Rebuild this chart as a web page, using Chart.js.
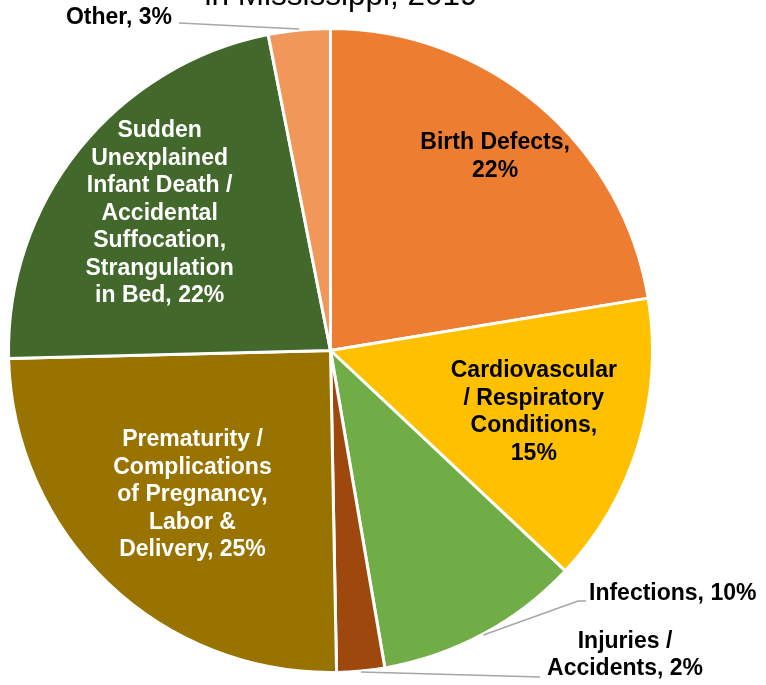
<!DOCTYPE html>
<html>
<head>
<meta charset="utf-8">
<script src="https://cdn.jsdelivr.net/npm/chart.js@4.4.1/dist/chart.umd.min.js"></script>
<style>
  html, body { margin: 0; padding: 0; background: #fff; }
  #wrap { width: 766px; height: 685px; }
</style>
</head>
<body>
<div id="wrap"><canvas id="infantDeathChart"></canvas></div>
<script>
// data (percent of infant deaths)
const causes = [
    'Birth Defects',
    'Cardiovascular / Respiratory Conditions',
    'Infections',
    'Injuries / Accidents',
    'Prematurity / Complications of Pregnancy, Labor & Delivery',
    'Sudden Unexplained Infant Death / Accidental Suffocation, Strangulation in Bed',
    'Other'
];
const shares = [22.4, 14.6, 10.3, 2.4, 24.9, 22.3, 3.1];
const sliceColors = ['#ED7D31', '#FFC000', '#70AD47', '#9E480E', '#997300', '#43682B', '#F1975A'];

// how each label is written and placed
const labelLines = [
    ['Birth Defects,', '{p}'],
    ['Cardiovascular', '/ Respiratory', 'Conditions,', '{p}'],
    ['Infections, {p}'],
    ['Injuries /', 'Accidents, {p}'],
    ['Prematurity /', 'Complications', 'of Pregnancy,', 'Labor &', 'Delivery, {p}'],
    ['Sudden', 'Unexplained', 'Infant Death /', 'Accidental', 'Suffocation,', 'Strangulation', 'in Bed, {p}'],
    ['Other, {p}']
];
const labelStyle = [
    { inside: 0.79, color: '#000' },
    { inside: 0.66, color: '#000' },
    { x: 589, y: 594, align: 'left', elbow: [578, 601], end: [586, 601], color: '#000' },
    { x: 625, y: 655, align: 'center', elbow: [540, 677], end: [540, 677], color: '#000' },
    { inside: 0.62, color: '#fff' },
    { inside: 0.68, color: '#fff' },
    { x: 172, y: 18, align: 'right', elbow: [179, 23], end: [179, 23], color: '#000' }
];

const titlePlugin = {
    id: 'cutTitle',
    afterDraw(chart) {
        const ctx = chart.ctx;
        ctx.save();
        ctx.fillStyle = '#000';
        ctx.font = '31.5px "Liberation Sans", Arial, sans-serif';
        ctx.textAlign = 'center';
        ctx.textBaseline = 'alphabetic';
        ctx.fillText('in Mississippi, 2019', 341, 5);
        ctx.restore();
    }
};

const sliceLabels = {
    id: 'sliceLabels',
    afterDatasetsDraw(chart) {
        const ctx = chart.ctx;
        const meta = chart.getDatasetMeta(0);
        const lh = 27.5;
        ctx.save();
        ctx.font = 'bold 23px "Liberation Sans", Arial, sans-serif';
        ctx.textBaseline = 'middle';
        meta.data.forEach((arc, i) => {
            const st = labelStyle[i];
            const p = Math.round(shares[i]) + '%';
            const lines = labelLines[i].map(l => l.replace('{p}', p));
            const mid = (arc.startAngle + arc.endAngle) / 2;
            ctx.fillStyle = st.color;
            let cx, cy;
            if (st.inside) {
                cx = arc.x + Math.cos(mid) * arc.outerRadius * st.inside;
                cy = arc.y + Math.sin(mid) * arc.outerRadius * st.inside;
                ctx.textAlign = 'center';
            } else {
                // leader line from the slice edge
                const ex = arc.x + Math.cos(mid) * (arc.outerRadius + 1);
                const ey = arc.y + Math.sin(mid) * (arc.outerRadius + 1);
                ctx.strokeStyle = '#A6A6A6';
                ctx.lineWidth = 1.5;
                ctx.beginPath();
                ctx.moveTo(ex, ey);
                ctx.lineTo(st.elbow[0], st.elbow[1]);
                ctx.lineTo(st.end[0], st.end[1]);
                ctx.stroke();
                cx = st.x;
                cy = st.y;
                ctx.textAlign = st.align;
            }
            const top = cy - (lines.length - 1) * lh / 2;
            lines.forEach((t, k) => ctx.fillText(t, cx, top + k * lh));
        });
        ctx.restore();
    }
};

const ctxPie = document.getElementById('infantDeathChart').getContext('2d');
const infantDeathChart = new Chart(ctxPie, {
type: 'pie',
data: {
    labels: causes,
    datasets: [{
        data: shares,
        backgroundColor: sliceColors,
        borderColor: '#ffffff',
        borderWidth: 3
    }]
},
options: {
    responsive: true,
    maintainAspectRatio: false,
    animation: false,
    layout: {
        padding: { left: 7, top: 27, right: 112, bottom: 11 }
    },
    plugins: {
        legend: { display: false },
        tooltip: { enabled: false },
        title: { display: false }
    }
},
plugins: [sliceLabels, titlePlugin]
});
</script>
</body>
</html>
